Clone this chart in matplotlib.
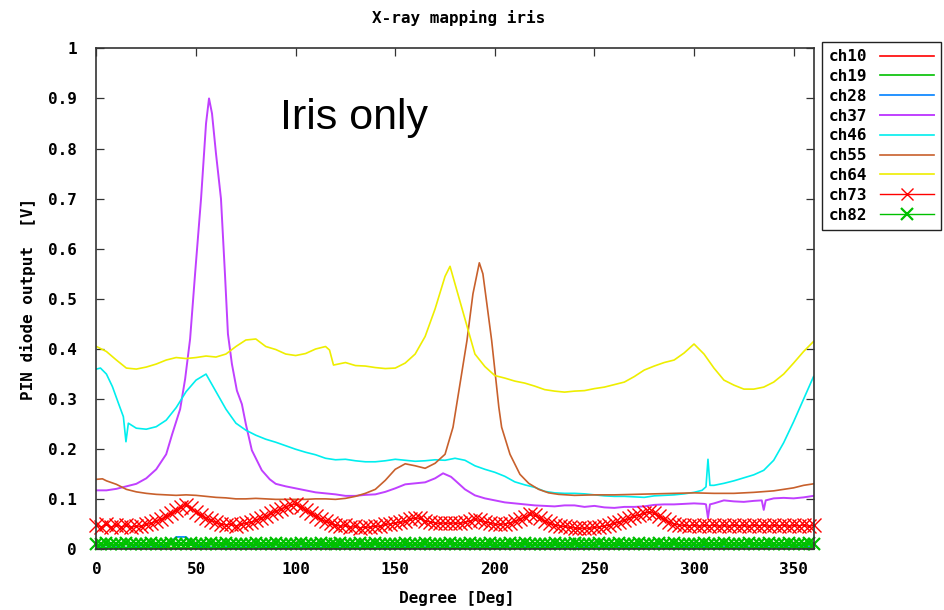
import numpy as np
import matplotlib
matplotlib.use('Agg')
import matplotlib.pyplot as plt

# scan angle grids [deg]
deg5 = np.arange(0, 361, 5)
deg_fine = np.arange(0, 360.1, 2.5)

# channels that stay near zero (mostly hidden under ch82)
ch10 = [0.004, 0.003, 0.004, 0.003, 0.002, 0.004, 0.003, 0.004, 0.003, 0.002,
        0.003, 0.004, 0.003, 0.002, 0.004, 0.003, 0.004, 0.003, 0.002, 0.003,
        0.004, 0.003, 0.002, 0.004, 0.003, 0.004, 0.003, 0.002, 0.003, 0.004,
        0.003, 0.002, 0.004, 0.003, 0.004, 0.003, 0.002, 0.003, 0.004, 0.003,
        0.002, 0.004, 0.003, 0.004, 0.003, 0.002, 0.003, 0.004, 0.003, 0.002,
        0.004, 0.003, 0.004, 0.003, 0.002, 0.003, 0.004, 0.003, 0.002, 0.004,
        0.003, 0.004, 0.003, 0.002, 0.003, 0.004, 0.003, 0.002, 0.004, 0.003,
        0.004, 0.003, 0.003]
ch19 = [0.009, 0.008, 0.009, 0.010, 0.008, 0.009, 0.008, 0.009, 0.010, 0.009,
        0.008, 0.009, 0.010, 0.009, 0.008, 0.009, 0.008, 0.010, 0.009, 0.008,
        0.009, 0.010, 0.009, 0.008, 0.009, 0.008, 0.009, 0.010, 0.009, 0.008,
        0.009, 0.008, 0.010, 0.009, 0.008, 0.009, 0.010, 0.009, 0.008, 0.009,
        0.008, 0.009, 0.010, 0.009, 0.008, 0.009, 0.008, 0.010, 0.009, 0.008,
        0.009, 0.010, 0.009, 0.008, 0.009, 0.008, 0.009, 0.010, 0.009, 0.008,
        0.009, 0.008, 0.010, 0.009, 0.008, 0.009, 0.010, 0.009, 0.008, 0.009,
        0.008, 0.009, 0.009]
ch28 = [0.005, 0.004, 0.005, 0.004, 0.005, 0.004, 0.005, 0.006, 0.025, 0.025,
        0.006, 0.005, 0.004, 0.005, 0.004, 0.005, 0.004, 0.005, 0.004, 0.005,
        0.004, 0.005, 0.004, 0.005, 0.004, 0.005, 0.004, 0.005, 0.004, 0.005,
        0.004, 0.005, 0.004, 0.005, 0.004, 0.005, 0.004, 0.005, 0.004, 0.005,
        0.004, 0.005, 0.004, 0.005, 0.004, 0.005, 0.004, 0.005, 0.004, 0.005,
        0.004, 0.005, 0.004, 0.005, 0.004, 0.005, 0.004, 0.005, 0.004, 0.005,
        0.004, 0.005, 0.004, 0.005, 0.004, 0.005, 0.004, 0.005, 0.004, 0.005,
        0.004, 0.005, 0.005]

ch37_deg = [0, 5, 10, 15, 20, 25, 30, 35, 38, 42, 44.5, 47, 49.5, 52.5, 55, 56.5, 58, 60,
            62.5, 64.5, 66, 68, 70.5, 73, 75, 78, 83, 87, 90, 95, 100, 105, 110, 115, 120,
            125, 130, 135, 140, 145, 150, 155, 160, 165, 170, 174, 178, 180, 185, 190, 195,
            200, 205, 210, 215, 220, 225, 230, 235, 240, 245, 250, 255, 260, 265, 270, 275,
            280, 285, 290, 295, 300, 305, 306, 307, 308, 310, 315, 320, 325, 330, 334, 335,
            336, 340, 345, 350, 355, 360]
ch37 = [0.118, 0.118, 0.121, 0.126, 0.131, 0.142, 0.160, 0.190, 0.230, 0.280, 0.340, 0.420,
        0.550, 0.700, 0.850, 0.900, 0.870, 0.790, 0.700, 0.550, 0.430, 0.370, 0.317, 0.290,
        0.250, 0.198, 0.158, 0.140, 0.131, 0.126, 0.122, 0.118, 0.114, 0.112, 0.110, 0.107,
        0.107, 0.109, 0.110, 0.115, 0.122, 0.130, 0.132, 0.134, 0.142, 0.152, 0.145, 0.138,
        0.120, 0.108, 0.102, 0.098, 0.094, 0.092, 0.090, 0.088, 0.087, 0.086, 0.088, 0.088,
        0.085, 0.087, 0.084, 0.083, 0.085, 0.085, 0.086, 0.089, 0.090, 0.090, 0.091, 0.092,
        0.091, 0.090, 0.063, 0.090, 0.092, 0.098, 0.096, 0.095, 0.097, 0.098, 0.079, 0.098,
        0.102, 0.103, 0.102, 0.104, 0.107]

ch46_deg = [0, 2, 5, 8, 11, 13.5, 14.8, 16, 20, 25, 30, 35, 40, 45, 50, 55, 60, 65, 70, 75,
            80, 85, 90, 95, 100, 105, 110, 115, 120, 125, 130, 135, 140, 145, 150, 155, 160,
            165, 170, 175, 180, 185, 190, 195, 200, 205, 210, 215, 220, 225, 230, 235, 240,
            245, 250, 255, 260, 265, 270, 275, 280, 285, 290, 295, 300, 304, 306, 307, 308,
            310, 315, 320, 325, 330, 335, 340, 345, 350, 355, 360]
ch46 = [0.360, 0.362, 0.350, 0.325, 0.292, 0.265, 0.215, 0.252, 0.242, 0.240, 0.245, 0.258,
        0.283, 0.315, 0.338, 0.350, 0.315, 0.280, 0.252, 0.238, 0.228, 0.220, 0.214, 0.207,
        0.200, 0.194, 0.189, 0.182, 0.179, 0.180, 0.177, 0.175, 0.175, 0.177, 0.180, 0.178,
        0.176, 0.177, 0.179, 0.178, 0.182, 0.178, 0.167, 0.160, 0.154, 0.146, 0.135, 0.129,
        0.124, 0.116, 0.113, 0.112, 0.112, 0.111, 0.109, 0.107, 0.106, 0.106, 0.105, 0.104,
        0.107, 0.108, 0.109, 0.111, 0.114, 0.118, 0.125, 0.180, 0.128, 0.128, 0.132, 0.137,
        0.143, 0.149, 0.158, 0.178, 0.213, 0.255, 0.300, 0.345]

ch55_deg = [0, 3, 5, 10, 15, 20, 25, 30, 35, 40, 45, 50, 55, 60, 65, 70, 75, 80, 85, 90, 95,
            100, 105, 110, 115, 120, 125, 130, 135, 140, 145, 150, 155, 160, 165, 170, 175,
            179, 183.3, 186, 189, 192.2, 194, 196, 198.4, 202, 203.4, 207.6, 212.6, 217, 222,
            227, 232, 240, 250, 260, 270, 280, 290, 300, 310, 320, 330, 340, 345, 350, 355, 360]
ch55 = [0.140, 0.141, 0.137, 0.130, 0.120, 0.115, 0.112, 0.110, 0.109, 0.108, 0.109, 0.108,
        0.106, 0.104, 0.103, 0.101, 0.101, 0.102, 0.101, 0.100, 0.100, 0.100, 0.100, 0.101,
        0.101, 0.100, 0.102, 0.106, 0.112, 0.120, 0.138, 0.160, 0.171, 0.167, 0.162, 0.172,
        0.190, 0.244, 0.350, 0.417, 0.510, 0.572, 0.550, 0.490, 0.417, 0.284, 0.244, 0.190,
        0.150, 0.132, 0.120, 0.113, 0.110, 0.108, 0.109, 0.109, 0.110, 0.111, 0.112, 0.113,
        0.112, 0.112, 0.114, 0.117, 0.120, 0.123, 0.128, 0.131]

ch64_deg = [0, 5, 10, 15, 20, 25, 30, 35, 40, 45, 50, 55, 60, 65, 70, 75, 80, 85, 90, 95, 100,
            105, 110, 115, 117, 119, 125, 130, 135, 140, 145, 150, 155, 160, 165, 170, 175,
            177.5, 180, 185, 190, 195, 200, 205, 210, 215, 220, 225, 230, 235, 240, 245, 250,
            255, 260, 265, 270, 275, 280, 285, 290, 295, 300, 305, 310, 315, 320, 325, 330,
            335, 340, 345, 350, 355, 360]
ch64 = [0.405, 0.395, 0.378, 0.362, 0.360, 0.364, 0.370, 0.378, 0.383, 0.381, 0.383, 0.386,
        0.384, 0.390, 0.405, 0.418, 0.420, 0.405, 0.399, 0.390, 0.387, 0.391, 0.400, 0.405,
        0.398, 0.368, 0.373, 0.367, 0.366, 0.363, 0.361, 0.362, 0.372, 0.390, 0.425, 0.480,
        0.545, 0.565, 0.530, 0.460, 0.390, 0.365, 0.347, 0.342, 0.336, 0.332, 0.326, 0.319,
        0.316, 0.314, 0.316, 0.317, 0.321, 0.324, 0.329, 0.334, 0.345, 0.358, 0.366, 0.373,
        0.378, 0.392, 0.410, 0.390, 0.362, 0.338, 0.328, 0.320, 0.320, 0.324, 0.334, 0.350,
        0.372, 0.395, 0.415]

ch73 = [0.048, 0.045, 0.050, 0.044, 0.049, 0.045, 0.048, 0.044, 0.047, 0.046,
        0.050, 0.052, 0.057, 0.060, 0.066, 0.072, 0.078, 0.085, 0.088, 0.082,
        0.075, 0.068, 0.062, 0.058, 0.054, 0.050, 0.049, 0.050, 0.047, 0.050,
        0.052, 0.054, 0.058, 0.062, 0.066, 0.072, 0.076, 0.080, 0.085, 0.089,
        0.090, 0.084, 0.078, 0.072, 0.066, 0.060, 0.056, 0.053, 0.049, 0.046,
        0.048, 0.044, 0.046, 0.043, 0.045, 0.044, 0.047, 0.046, 0.050, 0.051,
        0.053, 0.054, 0.056, 0.060, 0.063, 0.062, 0.057, 0.055, 0.053, 0.052,
        0.053, 0.052, 0.053, 0.052, 0.054, 0.057, 0.060, 0.058, 0.055, 0.053,
        0.050, 0.050, 0.051, 0.053, 0.056, 0.060, 0.065, 0.070, 0.068, 0.062,
        0.057, 0.052, 0.049, 0.047, 0.046, 0.044, 0.043, 0.042, 0.043, 0.042,
        0.044, 0.045, 0.047, 0.049, 0.052, 0.055, 0.058, 0.062, 0.066, 0.069,
        0.072, 0.075, 0.072, 0.066, 0.060, 0.055, 0.051, 0.049, 0.048, 0.047,
        0.049, 0.046, 0.048, 0.047, 0.049, 0.046, 0.048, 0.046, 0.049, 0.047,
        0.048, 0.046, 0.049, 0.047, 0.049, 0.046, 0.048, 0.047, 0.049, 0.046,
        0.048, 0.047, 0.049, 0.046, 0.048]
ch82 = [0.011, 0.010, 0.012, 0.011, 0.010, 0.011, 0.012, 0.010, 0.011, 0.011,
        0.010, 0.012, 0.011, 0.010, 0.011, 0.012, 0.011, 0.010, 0.011, 0.012,
        0.010, 0.011, 0.011, 0.012, 0.010, 0.011, 0.012, 0.011, 0.010, 0.011,
        0.011, 0.010, 0.012, 0.011, 0.010, 0.011, 0.012, 0.010, 0.011, 0.011,
        0.010, 0.012, 0.011, 0.010, 0.011, 0.012, 0.011, 0.010, 0.011, 0.012,
        0.010, 0.011, 0.011, 0.012, 0.010, 0.011, 0.012, 0.011, 0.010, 0.011,
        0.011, 0.010, 0.012, 0.011, 0.010, 0.011, 0.012, 0.010, 0.011, 0.011,
        0.010, 0.012, 0.011, 0.010, 0.011, 0.012, 0.011, 0.010, 0.011, 0.012,
        0.010, 0.011, 0.011, 0.012, 0.010, 0.011, 0.012, 0.011, 0.010, 0.011,
        0.011, 0.010, 0.012, 0.011, 0.010, 0.011, 0.012, 0.010, 0.011, 0.011,
        0.010, 0.012, 0.011, 0.010, 0.011, 0.012, 0.011, 0.010, 0.011, 0.012,
        0.010, 0.011, 0.011, 0.012, 0.010, 0.011, 0.012, 0.011, 0.010, 0.011,
        0.011, 0.010, 0.012, 0.011, 0.010, 0.011, 0.012, 0.010, 0.011, 0.011,
        0.010, 0.012, 0.011, 0.010, 0.011, 0.012, 0.011, 0.010, 0.011, 0.012,
        0.010, 0.011, 0.011, 0.012, 0.011]

xticks = [0, 50, 100, 150, 200, 250, 300, 350]
yticks = [0, 0.1, 0.2, 0.3, 0.4, 0.5, 0.6, 0.7, 0.8, 0.9, 1]
ytick_labels = ['0', '0.1', '0.2', '0.3', '0.4', '0.5', '0.6', '0.7', '0.8', '0.9', '1']

mono = {'family': 'DejaVu Sans Mono', 'weight': 'bold', 'size': 11.5}

fig = plt.figure(figsize=(9.44, 6.10), dpi=100)
ax = fig.add_axes([0.1022, 0.0992, 0.7596, 0.8216])

lw = 1.2
ax.plot(deg5, ch10, color='#ff0000', lw=lw, label='ch10')
ax.plot(deg5, ch19, color='#00c000', lw=lw, label='ch19')
ax.plot(deg5, ch28, color='#0080ff', lw=lw, label='ch28')
ax.plot(ch37_deg, ch37, color='#c040ff', lw=1.4, label='ch37')
ax.plot(ch46_deg, ch46, color='#00eeee', lw=lw, label='ch46')
ax.plot(ch55_deg, ch55, color='#c8602c', lw=lw, label='ch55')
ax.plot(ch64_deg, ch64, color='#eeee00', lw=lw, label='ch64')
ax.plot(deg_fine, ch73, color='#ff0000', lw=1.0, marker='x', ms=10, mew=1.0,
        clip_on=False, label='ch73')
ax.plot(deg_fine, ch82, color='#00c000', lw=1.0, marker='x', ms=8, mew=1.6,
        clip_on=False, label='ch82')

ax.set_xlim(0, 360)
ax.set_ylim(0, 1)
ax.set_xticks(xticks)
ax.set_yticks(yticks)
ax.set_yticklabels(ytick_labels)
ax.tick_params(direction='in', length=6, width=0.9, top=True, right=True, color='#333333')
ax.tick_params(axis='x', pad=9)
ax.tick_params(axis='y', pad=14)
for lab in ax.get_xticklabels() + ax.get_yticklabels():
    lab.set_fontproperties(mono)
for sp in ax.spines.values():
    sp.set_linewidth(1.2)
    sp.set_color('#333333')

fig.text(0.486, 1 - 18 / 610, 'X-ray mapping iris', ha='center', va='center', **mono)
fig.text(0.484, 1 - 598 / 610, 'Degree [Deg]', ha='center', va='center', **mono)
fig.text(28 / 944, 1 - 299 / 610, 'PIN diode output  [V]', rotation=90,
         ha='center', va='center', **mono)

ax.text(92, 0.839, 'Iris only', family='Liberation Sans', fontsize=31,
        ha='left', va='baseline')

leg = fig.legend(loc='upper left', bbox_to_anchor=(822 / 944, 1 - 42 / 610),
                 borderaxespad=0, markerfirst=False, prop=mono, handlelength=3.4,
                 handletextpad=0.75, borderpad=0.45, labelspacing=0.3,
                 fancybox=False, framealpha=1, edgecolor='#222222')
leg.get_frame().set_linewidth(1.0)
for h in leg.legend_handles[7:]:
    h.set_markersize(8)

fig.savefig('out.png', dpi=100)
